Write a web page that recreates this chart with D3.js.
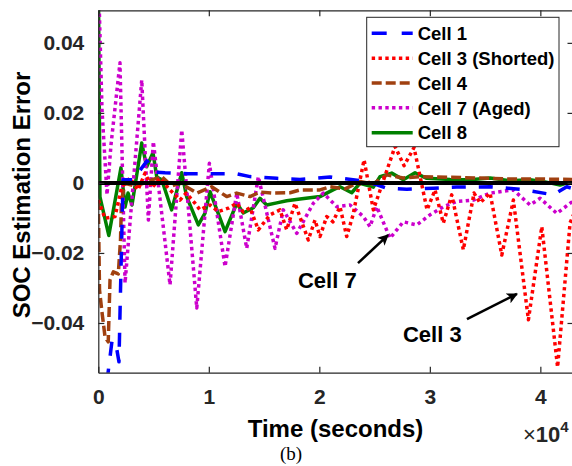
<!DOCTYPE html>
<html>
<head>
<meta charset="utf-8">
<script src="https://cdn.jsdelivr.net/npm/d3@7"></script>
<style>
  body { margin: 0; background: #fff; }
  text { font-family: "Liberation Sans", Arial, sans-serif; }
</style>
</head>
<body>
<div id="chart"></div>
<script>
// Data: [time (s), SOC estimation error]
const cell1 = [[0,-0.08],[880,-0.0543],[1240,-0.0451],[1560,-0.0454],[1870,-0.0511],[2010,-0.0306],[2240,0.0009],
  [3140,0.0009],[4410,0.0063],[5130,0.0031],[6040,0.0029],[8120,0.0026],[10260,0.0026],[12530,0.0026],[13730,0.0018],
  [16150,0.0013],[18250,0.001],[20970,0.0017],[23050,0.0009],[24400,0.0003],[26100,-0.0015],[27910,-0.0018],
  [30320,-0.0015],[32440,-0.0012],[35450,-0.0011],[38170,-0.0018],[41180,-0.0034],[42390,-0.0011],[43000,-0.0017]];

const cell3 = [[0,-0.0049],[610,-0.0101],[1510,-0.0096],[2120,-0.0011],[2870,0.0014],[3590,-0.002],[4230,0.0028],
  [4860,-0.0014],[5580,0.0014],[6340,-0.0015],[7390,-0.0049],[7940,-0.0029],[8750,-0.0058],[9200,-0.0077],
  [10110,-0.0063],[10860,-0.0082],[11770,-0.0072],[12530,-0.0058],[13120,-0.0083],[13730,-0.0071],[14480,-0.0134],
  [15540,-0.0091],[16440,-0.0077],[17050,-0.0134],[17800,-0.0058],[19000,-0.0163],[19610,-0.0106],[20060,-0.0153],
  [20670,-0.0096],[21240,-0.0111],[21870,-0.0068],[22480,-0.0153],[23050,-0.0091],[24050,0.0066],[24890,-0.0077],
  [26850,0.0104],[27670,0.0049],[28570,0.0101],[29750,-0.0077],[30470,-0.002],[31220,-0.0115],[31980,-0.0034],
  [33030,-0.0191],[34000,-0.0029],[34540,-0.0057],[35450,-0.0029],[36510,-0.0206],[37560,-0.0049],[38920,-0.0391],
  [40130,-0.0125],[41560,-0.0526],[42690,-0.0114],[43000,-0.0091]];

const cell4 = [[0,-0.0049],[110,-0.0306],[310,-0.0363],[610,-0.044],[900,-0.0454],[1060,-0.0277],[1360,-0.0254],
  [1810,-0.026],[2010,-0.0163],[2100,-0.0049],[2420,-0.0001],[3320,-0.0009],[4230,0],[4860,0.0009],[5740,0.0018],
  [6640,-0.0009],[7390,0],[8910,-0.0029],[10260,-0.0011],[11620,-0.0039],[12530,-0.0029],[13730,-0.0039],
  [14630,-0.0026],[15840,-0.0029],[17350,-0.0028],[18250,-0.002],[20060,-0.002],[20970,-0.0011],[22330,-0.0017],
  [23680,0.0004],[24860,-0.0003],[26100,0.0023],[27580,0.0014],[29110,0.0018],[31830,0.0016],[34540,0.0014],
  [37260,0.0011],[39980,0.0011],[43000,0.001]];

const cell7 = [[0,0.06],[335,0.0209],[790,-0.0034],[1150,0.0109],[1960,0.0343],[2420,-0.0286],[3930,0.0294],
  [4530,-0.0106],[4980,0.0118],[6490,-0.0291],[7550,0.0151],[8910,-0.0357],[10050,0.0056],[11470,-0.0239],
  [12530,-0.0029],[13430,-0.0187],[14480,0.0018],[15990,-0.0187],[16740,-0.0077],[17960,-0.0144],[19460,-0.0058],
  [20360,-0.0029],[21580,-0.0068],[22780,-0.0063],[23980,-0.0096],[24590,-0.0125],[25200,-0.0068],[26400,-0.0158],
  [27600,-0.0111],[28820,-0.012],[30020,-0.0091],[31220,-0.0068],[32440,-0.0053],[33940,-0.0049],[35450,-0.0029],
  [37560,-0.002],[39070,-0.0063],[39980,-0.0044],[41490,-0.0087],[42870,-0.0054],[43000,-0.005]];

const cell8 = [[0,0.06],[150,-0.004],[950,-0.015],[2050,0.0043],[2420,-0.0069],[2690,-0.0029],[3050,-0.0063],
  [3930,0.0114],[4380,0.0046],[4950,0.0086],[5290,0.0017],[5740,0.0009],[6640,-0.0077],[7550,0.0029],[8000,-0.004],
  [9050,-0.012],[9660,-0.0086],[10110,-0.0025],[11470,-0.0139],[12530,-0.0058],[13120,-0.0086],[14030,-0.0071],
  [14630,-0.0044],[15240,-0.0063],[16150,-0.0057],[17050,-0.0051],[18250,-0.0046],[20060,-0.0039],[21240,-0.002],
  [21870,-0.0011],[22930,-0.0028],[23680,-0.0001],[24890,-0.0012],[25490,0.0018],[26550,0.0028],[27600,0.0009],
  [28660,0.0029],[29720,0.0013],[31830,0.001],[33640,0.0009],[35450,0.0014],[37260,0.0006],[39070,0.0009],
  [40430,0.0003],[41790,-0.0006],[43000,0.0006]];

const seriesNames = ["Cell 1", "Cell 3 (Shorted)", "Cell 4", "Cell 7 (Aged)", "Cell 8"];
const xTicks = [0, 10000, 20000, 30000, 40000];
const yTicks = [-0.04, -0.02, 0, 0.02, 0.04];

// annotations: label position and arrow tail/tip in data units
const notes = [
  {label: "Cell 7", at: [18070, -0.0300], from: [23500, -0.0229], to: [26215, -0.0149]},
  {label: "Cell 3", at: [27570, -0.0454], from: [33360, -0.0389], to: [37880, -0.0317]}
];

const width = 572, height = 466;
const axisColor = "#262626";

const svg = d3.select("#chart").append("svg")
  .attr("width", width)
  .attr("height", height);

const x = d3.scaleLinear().domain([0, 43000]).range([98.3, 573.5]);
const y = d3.scaleLinear().domain([-0.0542, 0.0493]).range([372.7, 10.3]);

const defs = svg.append("defs");
defs.append("clipPath").attr("id", "plotclip")
  .append("rect")
  .attr("x", x.range()[0]).attr("y", y.range()[1])
  .attr("width", x.range()[1] - x.range()[0])
  .attr("height", y.range()[0] - y.range()[1]);

defs.append("marker")
  .attr("id", "arrow")
  .attr("viewBox", "0 0 10 10")
  .attr("refX", 9).attr("refY", 5)
  .attr("markerWidth", 13).attr("markerHeight", 11)
  .attr("markerUnits", "userSpaceOnUse")
  .attr("orient", "auto")
  .append("path")
  .attr("d", "M0,0 L10,5 L0,10 L2.5,5 z")
  .attr("fill", "#000");

const series = [
  {data: cell1, color: "#0000ff", dash: "14,13"},
  {data: cell3, color: "#ff0000", dash: "3.4,3.4"},
  {data: cell4, color: "#a04010", dash: "10,4"},
  {data: cell7, color: "#cc00cc", dash: "3.4,3.4"},
  {data: cell8, color: "#008000", dash: null}
];

const line = d3.line().x(d => x(d[0])).y(d => y(d[1]));

const plot = svg.append("g").attr("clip-path", "url(#plotclip)");

// draw last series first so legend order sits on top like the figure
[4, 3, 2, 1, 0].forEach(i => {
  const s = series[i];
  plot.append("path")
    .datum(s.data)
    .attr("d", line)
    .attr("fill", "none")
    .attr("stroke", s.color)
    .attr("stroke-width", 3.5)
    .attr("stroke-dasharray", s.dash)
    .attr("stroke-linejoin", "round");
});

// zero reference
plot.append("path")
  .datum([[0, 0], [43000, 0]])
  .attr("d", line)
  .attr("stroke", "#000")
  .attr("stroke-width", 4);

// axes (box with inward ticks)
const xAxis = d3.axisBottom(x).tickValues(xTicks).tickFormat(d => d / 10000).tickSizeInner(-6).tickSizeOuter(0).tickPadding(16);
const yAxis = d3.axisLeft(y).tickValues(yTicks).tickFormat(d => d === 0 ? "0" : d3.format(".2f")(d)).tickSizeInner(-6).tickSizeOuter(0).tickPadding(14);

const gx = svg.append("g").attr("transform", `translate(0,${y.range()[0]})`).call(xAxis);
const gy = svg.append("g").attr("transform", `translate(${x.range()[0]},0)`).call(yAxis);
svg.append("g").attr("transform", `translate(0,${y.range()[1]})`)
  .call(d3.axisTop(x).tickValues(xTicks).tickFormat("").tickSizeInner(-6).tickSizeOuter(0));
svg.append("g").attr("transform", `translate(${x.range()[1]},0)`)
  .call(d3.axisRight(y).tickValues(yTicks).tickFormat("").tickSizeInner(-6).tickSizeOuter(0));

svg.selectAll(".domain, .tick line").attr("stroke", axisColor).attr("stroke-width", 1.2);
[gx, gy].forEach(g => g.selectAll("text")
  .attr("font-size", 21).attr("font-weight", "bold").attr("fill", axisColor)
  .style("font-family", "'Liberation Sans', Arial, sans-serif"));

// axis labels
svg.append("text")
  .attr("transform", "translate(30,195) rotate(-90)")
  .attr("text-anchor", "middle")
  .attr("font-size", 24).attr("font-weight", "bold")
  .text("SOC Estimation Error");

svg.append("text")
  .attr("x", 335.5).attr("y", 437)
  .attr("text-anchor", "middle")
  .attr("font-size", 24).attr("font-weight", "bold")
  .text("Time (seconds)");

const mult = svg.append("text")
  .attr("x", 523).attr("y", 442)
  .attr("font-size", 22).attr("fill", axisColor);
mult.append("tspan").text("\u00d7");
mult.append("tspan").attr("font-weight", "bold").text("10");
mult.append("tspan").attr("font-weight", "bold").attr("font-size", 15).attr("dy", -10).text("4");

svg.append("text")
  .attr("x", 291).attr("y", 460)
  .attr("text-anchor", "middle")
  .style("font-family", "'Liberation Serif', 'Times New Roman', serif")
  .attr("font-size", 19)
  .text("(b)");

// annotations
notes.forEach(n => {
  svg.append("line")
    .attr("x1", x(n.from[0])).attr("y1", y(n.from[1]))
    .attr("x2", x(n.to[0])).attr("y2", y(n.to[1]))
    .attr("stroke", "#000").attr("stroke-width", 2.6)
    .attr("marker-end", "url(#arrow)");
  svg.append("text")
    .attr("x", x(n.at[0])).attr("y", y(n.at[1]))
    .attr("font-size", 22).attr("font-weight", "bold")
    .text(n.label);
});

// legend
const legend = svg.append("g");
legend.append("rect")
  .attr("x", 366.7).attr("y", 17.3)
  .attr("width", 192.3).attr("height", 129.4)
  .attr("fill", "#fff")
  .attr("stroke", axisColor).attr("stroke-width", 1);

seriesNames.forEach((name, i) => {
  const ly = 33.3 + i * 24.85;
  legend.append("line")
    .attr("x1", 371.7).attr("x2", 412.7)
    .attr("y1", ly).attr("y2", ly)
    .attr("stroke", series[i].color)
    .attr("stroke-width", 3.5)
    .attr("stroke-dasharray", i === 0 ? "15,15" : series[i].dash);
  legend.append("text")
    .attr("x", 417.7).attr("y", ly)
    .attr("dy", "0.36em")
    .attr("font-size", 18.5).attr("font-weight", "bold")
    .text(name);
});
</script>
</body>
</html>
